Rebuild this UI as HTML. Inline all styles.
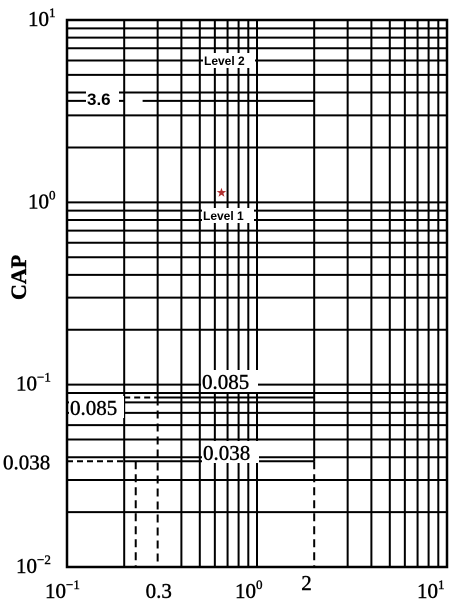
<!DOCTYPE html>
<html><head><meta charset="utf-8">
<style>
html,body{margin:0;padding:0;background:#fff;}
svg{display:block;}
.ser{font-family:"Liberation Serif",serif;fill:#000;stroke:#000;stroke-width:0.4;}
.san{font-family:"Liberation Sans",sans-serif;font-weight:bold;fill:#000;}
</style></head>
<body>
<svg id="chart" width="474" height="612" viewBox="0 0 474 612" xmlns="http://www.w3.org/2000/svg"></svg>
<script>
const xGridValues=[0.1,0.2,0.3,0.4,0.5,0.6,0.7,0.8,0.9,1,2,3,4,5,6,7,8,9,10];
const yGridValues=[0.01,0.02,0.03,0.04,0.05,0.06,0.07,0.08,0.09,0.1,0.2,0.3,0.4,0.5,0.6,0.7,0.8,0.9,1,2,3,4,5,6,7,8,9,10];
const xTickLabels=[[0.1,"10","−1"],[0.3,"0.3",""],[1,"10","0"],[2,"2",""],[10,"10","1"]];
const yTickLabels=[[10,"10","1"],[1,"10","0"],[0.1,"10","−1"],[0.01,"10","−2"]];
const refValues=[3.6,0.085,0.038];
const refXValues=[0.23,0.3,2];
const starPoint=[0.65,1.13];

const svg=document.getElementById('chart');
const NS='http://www.w3.org/2000/svg';
const X0=67,X1=447,Y0=20,Y1=567;
function sx(v){return X0+(Math.log10(v)+1)/2*(X1-X0);}
function sy(v){return Y0+(1-Math.log10(v))/3*(Y1-Y0);}
function mk(tag,attrs,name,text){
  const e=document.createElementNS(NS,tag);
  for(const k in attrs)e.setAttribute(k,attrs[k]);
  
  
  if(text!==undefined)e.textContent=text;
  svg.appendChild(e);return e;
}
const lw=2;
xGridValues.forEach(v=>{
  if(v===0.3){mk('line',{x1:sx(v),x2:sx(v),y1:Y0,y2:sy(refValues[1]),stroke:'#000','stroke-width':lw},'x-grid-line');
    mk('line',{x1:sx(v),x2:sx(v),y1:sy(refValues[1]),y2:Y1,stroke:'#000','stroke-width':lw,'stroke-dasharray':'8,5'},'x-grid-dashed');return;}
  if(v===2){mk('line',{x1:sx(v),x2:sx(v),y1:Y0,y2:sy(refValues[2]),stroke:'#000','stroke-width':lw},'x-grid-line');
    mk('line',{x1:sx(v),x2:sx(v),y1:sy(refValues[2]),y2:Y1,stroke:'#000','stroke-width':lw,'stroke-dasharray':'8,5'},'x-grid-dashed');return;}
  mk('line',{x1:sx(v),x2:sx(v),y1:Y0,y2:Y1,stroke:'#000','stroke-width':lw},'x-grid-line');
});
yGridValues.forEach(v=>{
  mk('line',{x1:X0,x2:X1,y1:sy(v),y2:sy(v),stroke:'#000','stroke-width':lw},'y-grid-line');
});
mk('line',{x1:sx(refXValues[0]),x2:sx(refXValues[0]),y1:sy(refValues[2]),y2:Y1,stroke:'#000','stroke-width':lw,'stroke-dasharray':'8,5'},'ref-dashed-x');
const y36=sy(refValues[0]);
mk('line',{x1:X0,x2:sx(0.2),y1:y36,y2:y36,stroke:'#000','stroke-width':lw},'ref-line-3-6');
mk('line',{x1:sx(0.25),x2:sx(2),y1:y36,y2:y36,stroke:'#000','stroke-width':lw},'ref-line-3-6');
const y85=sy(refValues[1]);
mk('line',{x1:sx(0.2),x2:sx(0.3),y1:y85,y2:y85,stroke:'#000','stroke-width':lw,'stroke-dasharray':'6,4'},'ref-dashed-0-085');
mk('line',{x1:sx(0.3),x2:sx(2),y1:y85,y2:y85,stroke:'#000','stroke-width':lw},'ref-line-0-085');
const y38=sy(refValues[2]);
mk('line',{x1:X0,x2:sx(0.2),y1:y38,y2:y38,stroke:'#000','stroke-width':lw,'stroke-dasharray':'6,4'},'ref-dashed-0-038');
mk('line',{x1:sx(0.2),x2:sx(2),y1:y38,y2:y38,stroke:'#000','stroke-width':lw},'ref-line-0-038');
mk('rect',{x:X0,y:Y0,width:X1-X0,height:Y1-Y0,fill:'none',stroke:'#000','stroke-width':2.5},'plot-frame');
function lab(x,y,w,h,t,cls,size,name){
  mk('rect',{x:x,y:y,width:w,height:h,fill:'#fff'},name+'-bg');
  mk('text',{x:x+1,y:y+h-3,class:cls,'font-size':size},name,t);
}
lab(203,53,52,15,'Level 2','san',12,'level-2-label');
lab(202,208,52,15,'Level 1','san',12,'level-1-label');
lab(86,89,33,19,'3.6','san',17,'label-3-6');
lab(201,370,57,22,'0.085','ser',21,'label-0-085-top');
lab(69,396,55,22,'0.085','ser',21,'label-0-085-left');
lab(202,441,57,22,'0.038','ser',21,'label-0-038-top');
mk('text',{x:3,y:y38+8,class:'ser','font-size':21},'y-label-0-038','0.038');
const stx=sx(starPoint[0]),sty=sy(starPoint[1]);
let pts=[];for(let i=0;i<10;i++){const r=i%2?2:5;const a=-Math.PI/2+i*Math.PI/5;pts.push((stx+r*Math.cos(a)).toFixed(1)+','+(sty+r*Math.sin(a)).toFixed(1));}
mk('polygon',{points:pts.join(' '),fill:'#b03030'},'red-star-marker');
yTickLabels.forEach(([v,b,e])=>{
  const t=mk('text',{x:e.length>1?16:28,y:sy(v)+6,class:'ser','font-size':21},'y-tick-label');
  t.textContent=b;
  const s=document.createElementNS(NS,'tspan');s.setAttribute('font-size','13');s.setAttribute('dy','-9');s.textContent=e;
  
  
  t.appendChild(s);
});
xTickLabels.forEach(([v,b,e])=>{
  const t=mk('text',{x:sx(v)+(e?-22:-12),y:598,class:'ser','font-size':21},'x-tick-label');
  if(v===2)t.setAttribute('x',sx(v)-13),t.setAttribute('y',590);
  if(v===10)t.setAttribute('x',sx(v)-30);
  t.textContent=b;
  if(e){const s=document.createElementNS(NS,'tspan');s.setAttribute('font-size','13');s.setAttribute('dy','-9');s.textContent=e;
  
  
  t.appendChild(s);}
});
mk('text',{x:0,y:0,class:'ser','font-size':22,transform:'translate(26,300) rotate(-90)','font-weight':'bold'},'y-axis-title','CAP');
</script>
</body></html>
